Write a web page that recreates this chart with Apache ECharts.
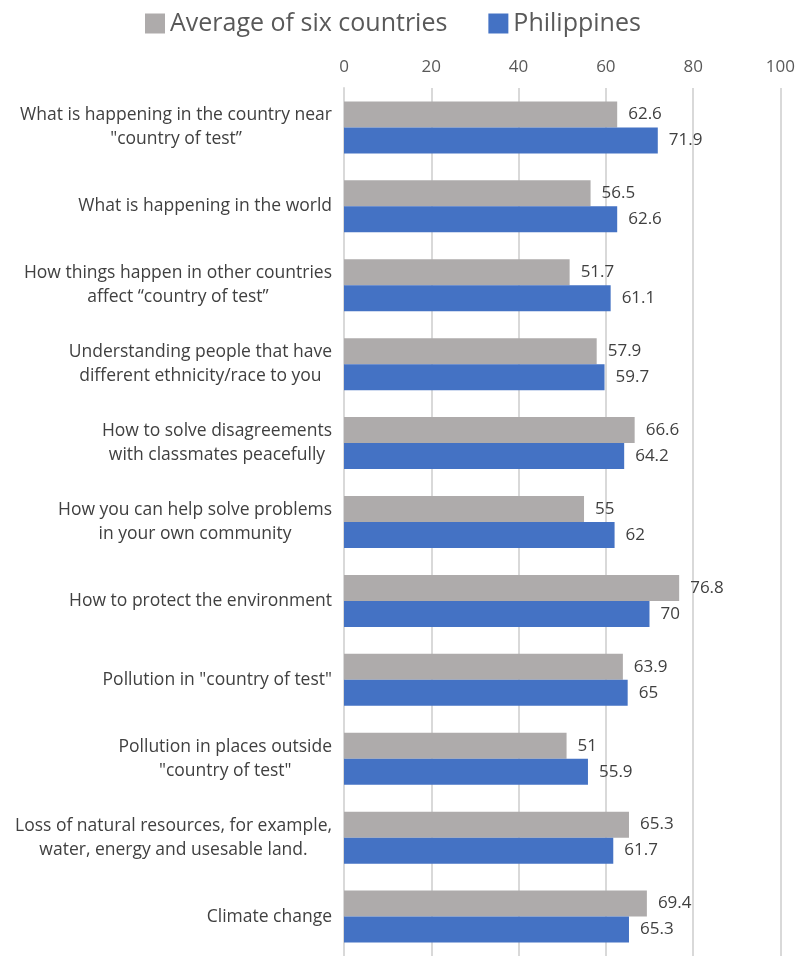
<!DOCTYPE html>
<html>
<head>
<meta charset="utf-8">
<script src="https://cdn.jsdelivr.net/npm/echarts@6/dist/echarts.min.js"></script>
<style>
  html, body { margin: 0; padding: 0; background: #fff; }
  #chart { width: 798px; height: 956px; }
</style>
</head>
<body>
<div id="chart"></div>
<script>
// Survey topics (top to bottom)
const categories = [
  'What is happening in the country near\n"country of test\u201d',
  'What is happening in the world',
  'How things happen in other countries\naffect \u201ccountry of test\u201d',
  'Understanding people that have\ndifferent ethnicity/race to you',
  'How to solve disagreements\nwith classmates peacefully',
  'How you can help solve problems\nin your own community',
  'How to protect the environment',
  'Pollution in "country of test"',
  'Pollution in places outside\n"country of test"',
  'Loss of natural resources, for example,\nwater, energy and usesable land.',
  'Climate change'
];
const averageSix = [62.6, 56.5, 51.7, 57.9, 66.6, 55, 76.8, 63.9, 51, 65.3, 69.4];
const philippines = [71.9, 62.6, 61.1, 59.7, 64.2, 62, 70, 65, 55.9, 61.7, 65.3];
const seriesNames = ['Average of six countries', 'Philippines'];

const FONT = '"Open Sans", "Noto Sans", sans-serif';

const chart = echarts.init(document.getElementById('chart'), null, { renderer: 'canvas' });

const valueLabel = {
  show: true,
  position: 'right',
  distance: 11,
  color: '#404040',
  fontSize: 17,
  fontFamily: FONT
};

chart.setOption({
  animation: false,
  legend: {
    top: 6,
    left: 140,
    itemWidth: 20,
    itemHeight: 20,
    itemGap: 41,
    icon: 'rect',
    textStyle: { fontSize: 25, color: '#595959', fontFamily: FONT },
    data: seriesNames
  },
  grid: { left: 344, right: 17, top: 88, height: 873, containLabel: false },
  xAxis: {
    type: 'value',
    position: 'top',
    min: 0,
    max: 100,
    interval: 20,
    axisLine: { show: false },
    axisTick: { show: false },
    axisLabel: { color: '#595959', fontSize: 17, fontFamily: FONT, margin: 12 },
    splitLine: { lineStyle: { color: '#d9d9d9', width: 2 } }
  },
  yAxis: {
    type: 'category',
    inverse: true,
    data: categories,
    axisLine: { show: true, lineStyle: { color: '#d9d9d9', width: 2 } },
    axisTick: { show: false },
    axisLabel: {
      margin: 12,
      align: 'right',
      lineHeight: 24,
      formatter: function (v) {
        return v.split('\n').map(function (s) { return '{c|' + s + '}'; }).join('\n');
      },
      rich: {
        c: { align: 'center', color: '#404040', fontSize: 17.5, lineHeight: 24, fontFamily: FONT }
      }
    }
  },
  series: [
    {
      name: seriesNames[0],
      type: 'bar',
      data: averageSix,
      itemStyle: { color: '#AEABAB' },
      barWidth: 26,
      barGap: '0%',
      label: valueLabel
    },
    {
      name: seriesNames[1],
      type: 'bar',
      data: philippines,
      itemStyle: { color: '#4472C4' },
      barWidth: 26,
      barGap: '0%',
      label: valueLabel
    }
  ]
});
</script>
</body>
</html>
